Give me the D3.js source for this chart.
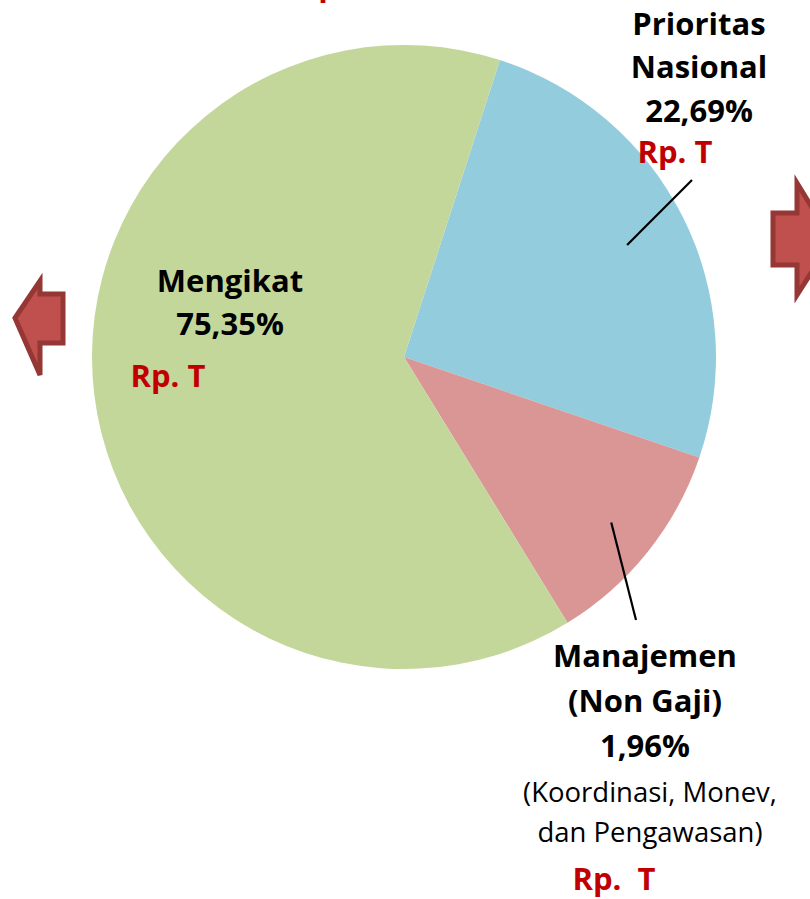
<!DOCTYPE html>
<html>
<head>
<meta charset="utf-8">
<script src="https://cdn.jsdelivr.net/npm/d3@7"></script>
<style>
  body { margin: 0; background: #fff; }
  text { font-family: "Open Sans", "Liberation Sans", sans-serif; white-space: pre; }
</style>
</head>
<body>
<div id="chart-area"></div>
<script>
// slice shares as drawn in the picture (blue, pink, green, clockwise)
var categories = ["Prioritas Nasional", "Manajemen (Non Gaji)", "Mengikat"];
var shares = [25.25, 11.0, 63.75];
var labelPct = ["22,69%", "1,96%", "75,35%"];
var colors = ["#93cddd", "#d99694", "#c4d79b"];

var width = 810, height = 899;
var cx = 404, cy = 357, r = 312;

var svg = d3.select("#chart-area").append("svg")
    .attr("width", width)
    .attr("height", height);

var pie = d3.pie()
    .sort(null)
    .value((d)=>{return d;})
    .startAngle(17.9 * Math.PI / 180)
    .endAngle(17.9 * Math.PI / 180 + 2 * Math.PI);

var arc = d3.arc().innerRadius(0).outerRadius(r);

var g = svg.append("g").attr("transform", "translate(" + cx + "," + cy + ")");

var arcs = pie(shares);

g.selectAll("path")
    .data(arcs)
    .enter()
    .append("path")
    .attr("d", arc)
    .attr("fill", (d, i)=>{return colors[i];});

// leader lines (blue and pink)
var blueStart = d3.arc().innerRadius(r * 0.8).outerRadius(r * 0.8).centroid(arcs[0]);
var pinkStart = d3.arc().innerRadius(r * 0.85).outerRadius(r * 0.85).centroid(arcs[1]);
g.append("line")
    .attr("x1", blueStart[0]).attr("y1", blueStart[1])
    .attr("x2", 692 - cx).attr("y2", 180 - cy)
    .attr("stroke", "black").attr("stroke-width", 2.2);
g.append("line")
    .attr("x1", pinkStart[0]).attr("y1", pinkStart[1])
    .attr("x2", 636 - cx).attr("y2", 620 - cy)
    .attr("stroke", "black").attr("stroke-width", 2.2);

// labels
function addText(x, y, txt, size, weight, color) {
  svg.append("text")
      .attr("x", x).attr("y", y)
      .attr("text-anchor", "middle")
      .attr("font-size", size)
      .attr("font-weight", weight)
      .attr("fill", color)
      .text(txt);
}

var dark = "#000", red = "#c00000";

// partially hidden title at top
addText(372, -4, "Rp.      ,   T", 31, "bold", red);

addText(699, 35, "Prioritas", 31, "bold", dark);
addText(699, 78, "Nasional", 31, "bold", dark);
addText(699, 122, labelPct[0], 31, "bold", dark);
addText(675, 163, "Rp. T", 31, "bold", red);

addText(230, 292, "Mengikat", 31, "bold", dark);
addText(230, 335, labelPct[2], 31, "bold", dark);
addText(168, 387, "Rp. T", 31, "bold", red);

addText(645, 667, "Manajemen", 31, "bold", dark);
addText(645, 712, "(Non Gaji)", 31, "bold", dark);
addText(645, 757, labelPct[1], 31, "bold", dark);
addText(650, 802, "(Koordinasi, Monev,", 27.5, "normal", dark);
addText(650, 842, "dan Pengawasan)", 27.5, "normal", dark);
addText(614, 890, "Rp.  T", 31, "bold", red);

// arrows
var arrowLeft = [[15,318],[40,281],[40,294],[63,294],[63,343],[40,343],[40,375]];
var arrowRight = [[773,213],[797,213],[797,183],[832,240],[797,295],[797,265],[773,265]];
svg.selectAll("polygon.arrow")
    .data([arrowLeft, arrowRight])
    .enter()
    .append("polygon")
    .attr("class", "arrow")
    .attr("points", (d)=>{return d.map((p)=>{return p.join(",");}).join(" ");})
    .attr("fill", "#c0504d")
    .attr("stroke", "#953735")
    .attr("stroke-width", 5)
    .attr("stroke-linejoin", "miter");
</script>
</body>
</html>
